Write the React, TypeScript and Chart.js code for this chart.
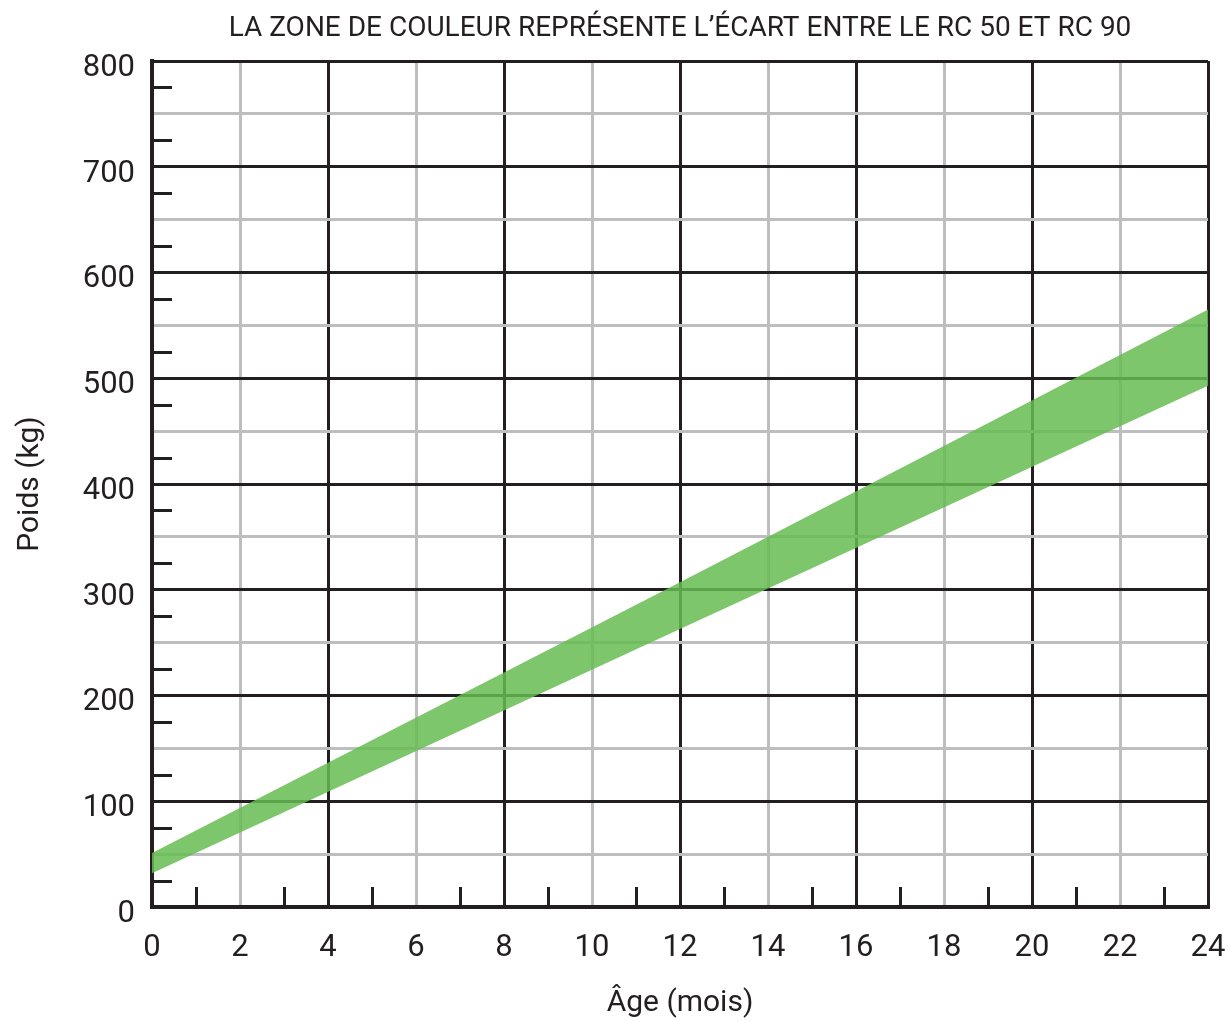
import React, { useEffect, useRef } from "react";
import { Chart, registerables } from "chart.js";

Chart.register(...registerables);

// Data
const ageMonths = [0, 12, 24];
const rc50Kg = [32, 263, 493];
const rc90Kg = [51, 307, 565];

const chartTitle = "LA ZONE DE COULEUR REPRÉSENTE L’ÉCART ENTRE LE RC 50 ET RC 90";
const xTitle = "Âge (mois)";
const yTitle = "Poids (kg)";

const monthMinorTicks = [1, 3, 5, 7, 9, 11, 13, 15, 17, 19, 21, 23];
const kgMinorTicks = [25, 75, 125, 175, 225, 275, 325, 375, 425, 475, 525, 575, 625, 675, 725, 775];

const INK = "#231f20";
const GRAY = "#bcbec0";
const FONT = "Roboto, 'DejaVu Sans', sans-serif";

const innerTicks = {
  id: "innerTicks",
  afterDatasetsDraw(chart: any) {
    const { ctx, scales } = chart;
    const x = scales.x;
    const y = scales.y;
    ctx.save();
    ctx.strokeStyle = INK;
    ctx.lineWidth = 3;
    ctx.beginPath();
    for (const m of monthMinorTicks) {
      const px = Math.round(x.getPixelForValue(m)) + 0.5;
      ctx.moveTo(px, y.bottom);
      ctx.lineTo(px, y.bottom - 20);
    }
    for (const k of kgMinorTicks) {
      const py = Math.round(y.getPixelForValue(k)) + 0.5;
      ctx.moveTo(x.left, py);
      ctx.lineTo(x.left + 20, py);
    }
    ctx.stroke();
    ctx.restore();
  },
};

export default function App() {
  const ref = useRef<HTMLCanvasElement | null>(null);

  useEffect(() => {
    document.body.style.margin = "0";
    document.body.style.overflow = "hidden";
    const canvas = ref.current;
    if (!canvas) return;
    const lower = ageMonths.map((a, i) => ({ x: a, y: rc50Kg[i] }));
    const upper = ageMonths.map((a, i) => ({ x: a, y: rc90Kg[i] }));
    const chart = new Chart(canvas, {
      type: "line",
      data: {
        datasets: [
          {
            label: "RC 50",
            data: lower,
            borderWidth: 0,
            borderColor: "rgba(0,0,0,0)",
            pointRadius: 0,
            fill: false,
          },
          {
            label: "RC 90",
            data: upper,
            borderWidth: 0,
            borderColor: "rgba(0,0,0,0)",
            backgroundColor: "rgba(102,188,81,0.85)",
            pointRadius: 0,
            fill: "-1",
          },
        ],
      },
      options: {
        responsive: false,
        animation: false,
        layout: { padding: { left: 0, right: 0, top: 0, bottom: 0 } },
        plugins: {
          legend: { display: false },
          tooltip: { enabled: false },
          title: {
            display: true,
            text: chartTitle,
            fullSize: false,
            color: INK,
            font: { family: FONT, size: 28, weight: "normal", lineHeight: 1.2 },
            padding: { top: 12, bottom: 15.4 },
          },
        },
        scales: {
          x: {
            type: "linear",
            min: 0,
            max: 24,
            afterFit(scale: any) {
              scale.height = 114;
              scale.paddingRight = 20;
              scale.paddingLeft = 0;
            },
            ticks: {
              stepSize: 1,
              autoSkip: false,
              maxRotation: 0,
              padding: 23,
              color: INK,
              font: { family: FONT, size: 31 },
              callback: (v: any) => (Number(v) % 2 === 0 ? String(v) : ""),
            },
            grid: {
              drawTicks: false,
              lineWidth: 3,
              color: (c: any) => {
                const v = c.tick ? c.tick.value : 0;
                if (v % 4 === 0) return INK;
                if (v % 2 === 0) return GRAY;
                return "rgba(0,0,0,0)";
              },
            },
            border: { color: INK, width: 4 },
            title: {
              display: true,
              text: xTitle,
              color: INK,
              font: { family: FONT, size: 30, lineHeight: 1.2 },
              padding: { top: 0, bottom: 0 },
            },
          },
          y: {
            type: "linear",
            min: 0,
            max: 800,
            afterFit(scale: any) {
              scale.width = 152;
            },
            ticks: {
              stepSize: 25,
              autoSkip: false,
              padding: 17,
              labelOffset: 7,
              color: INK,
              font: { family: FONT, size: 31 },
              callback: (v: any) => (Number(v) % 100 === 0 ? String(v) : ""),
            },
            grid: {
              drawTicks: false,
              lineWidth: 3,
              color: (c: any) => {
                const v = c.tick ? c.tick.value : 0;
                if (v % 100 === 0) return INK;
                if (v % 50 === 0) return GRAY;
                return "rgba(0,0,0,0)";
              },
            },
            border: { color: INK, width: 4 },
            title: {
              display: true,
              text: yTitle,
              color: INK,
              font: { family: FONT, size: 30, lineHeight: 1.2 },
              padding: { top: 12, bottom: 0 },
            },
          },
        },
      },
      plugins: [innerTicks],
    } as any);
    return () => chart.destroy();
  }, []);

  return (
    <div style={{ width: 1228, height: 1021 }}>
      <canvas ref={ref} width={1228} height={1021} />
    </div>
  );
}
